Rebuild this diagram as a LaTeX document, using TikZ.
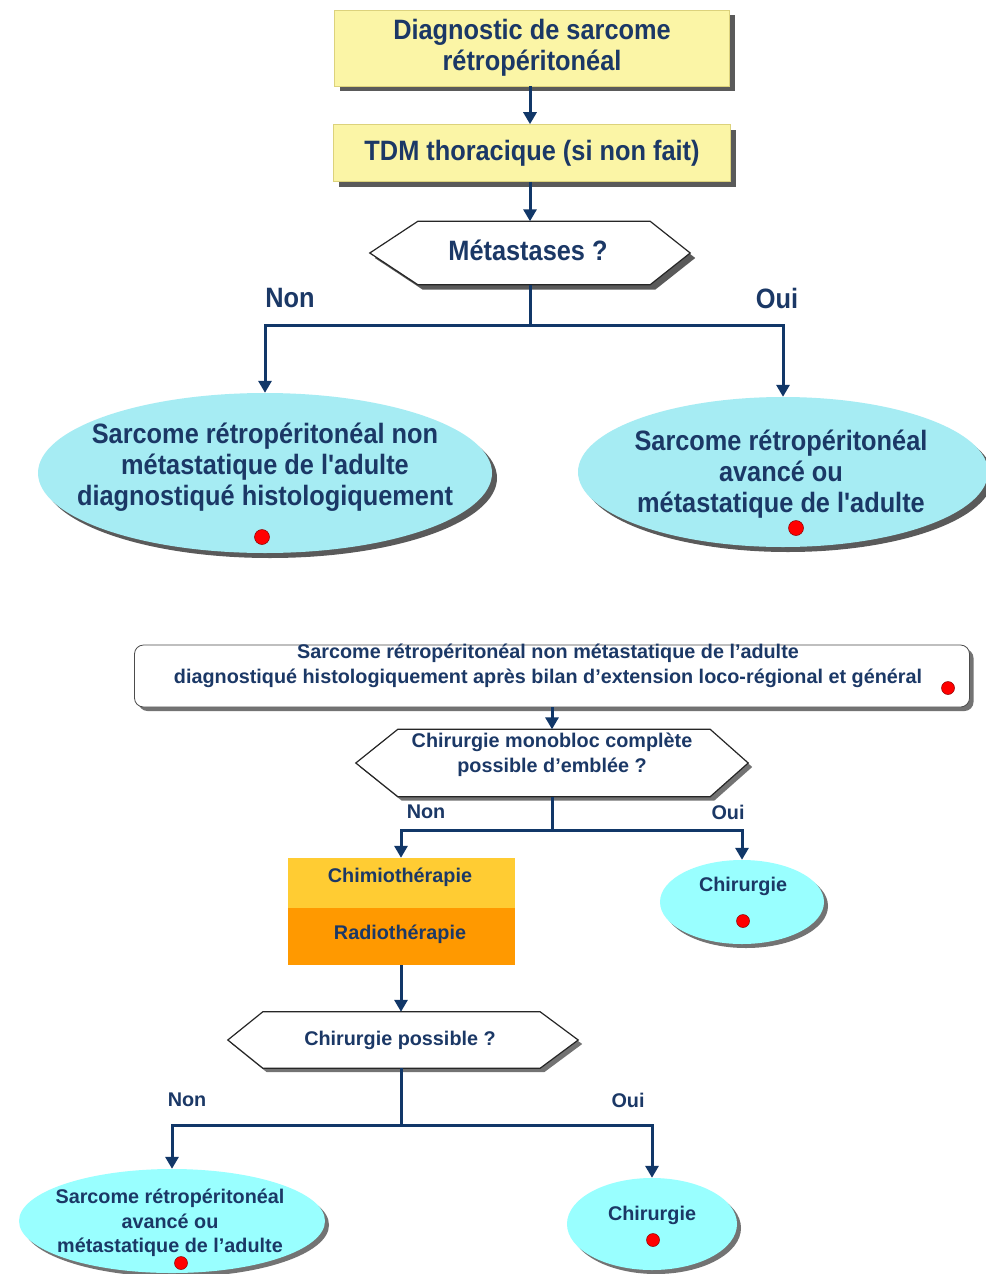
\documentclass[tikz,border=0pt]{standalone}
\usepackage{fontspec}
\setmainfont{Liberation Sans}
\newfontfamily\condensed{Liberation Sans}[FakeStretch=0.905]
\usetikzlibrary{arrows.meta,shadows,shapes.geometric,calc}

\definecolor{ink}{HTML}{1B3866}
\definecolor{linkc}{HTML}{113768}
\definecolor{paleyellow}{HTML}{FBF5A6}
\definecolor{yellowedge}{HTML}{DCD27C}
\definecolor{paleaqua}{HTML}{A6ECF3}
\definecolor{aqua}{HTML}{99FFFF}
\definecolor{chimioc}{HTML}{FFCC33}
\definecolor{radioc}{HTML}{FF9900}
\definecolor{shadowc}{HTML}{5A5A5A}
\definecolor{dotedge}{HTML}{8A0000}

\begin{document}
\begin{tikzpicture}[x=1pt,y=-1pt,
  every node/.style={inner sep=0pt, align=center, text=ink},
  castshadow/.style={drop shadow={shadow xshift=5pt, shadow yshift=-5pt, fill=shadowc, opacity=1}},
  lightshadow/.style={drop shadow={shadow xshift=4pt, shadow yshift=-4pt, fill=black!55, opacity=1}},
  topfont/.style={font=\condensed\bfseries\fontsize{28}{31}\selectfont},
  lowfont/.style={font=\bfseries\fontsize{19.8}{24.5}\selectfont},
  ybox/.style={rectangle, fill=paleyellow, draw=yellowedge, line width=0.6pt, castshadow},
  topoval/.style={ellipse, fill=paleaqua, castshadow},
  lowoval/.style={ellipse, fill=aqua, lightshadow},
  hexframe/.style={rectangle},
  hexline/.style={draw=black!85, fill=white, line width=1.2pt},
  dot/.style={circle, fill=red, draw=dotedge, line width=0.5pt, minimum size=13pt},
  link/.style={draw=linkc, line width=3pt, line join=miter,
               -{Triangle[width=13pt,length=12pt]}},
  plain/.style={draw=linkc, line width=3pt},
]
\useasboundingbox (0,0) rectangle (985,1274);
\fill[white] (0,0) rectangle (985,1274);

% ---------- first chart: initial work-up ----------
\node[ybox, minimum width=395, minimum height=76, topfont] (diag) at (532,48)
  {Diagnostic de sarcome\\rétropéritonéal};
\node[ybox, minimum width=397, minimum height=57, topfont] (tdm) at (532,153)
  {TDM thoracique (si non fait)};

\node[hexframe, minimum width=320, minimum height=63] (meta) at (530,253) {};
\draw[hexline, castshadow] (meta.west) -- ([xshift=48pt]meta.north west)
  -- ([xshift=-40pt]meta.north east) -- (meta.east)
  -- ([xshift=-40pt]meta.south east) -- ([xshift=48pt]meta.south west) -- cycle;
\node[topfont] (meta-t) at (528,250) {Métastases ?};

\draw[link] (diag.south -| meta.north) -- (tdm.north -| meta.north);
\draw[link] (tdm.south -| meta.north) -- (meta.north);

\coordinate (j1) at (530,325);
\draw[plain] (meta.south) -- (j1);

\node[topoval, minimum width=454, minimum height=160] (loc) at (265,473) {};
\node[topfont] (loc-t) at (265,467)
  {Sarcome rétropéritonéal non\\métastatique de l'adulte\\diagnostiqué histologiquement};
\node[dot, minimum size=15pt] (loc-d) at (262,537) {};

\node[topoval, minimum width=410, minimum height=150] (adv) at (783,472) {};
\node[topfont] (adv-t) at (781,474)
  {Sarcome rétropéritonéal\\avancé ou\\métastatique de l'adulte};
\node[dot, minimum size=15pt] (adv-d) at (796,528) {};

\draw[link] (j1) -| (loc.north);
\draw[link] (j1) -| (adv.north);

\node[topfont] (non1) at (290,298) {Non};
\node[topfont] (oui1) at (777,298) {Oui};

% ---------- second chart: localised disease ----------
\node[rectangle, rounded corners=9pt, fill=white, draw=black!70, line width=0.8pt,
      lightshadow, minimum width=835, minimum height=62] (bilan) at (552,676) {};
\node[lowfont] (bilan-t) at (548,666)
  {Sarcome rétropéritonéal non métastatique de l’adulte\\
   diagnostiqué histologiquement après bilan d’extension loco-régional et général};
\node[dot] (bilan-d) at (948,688) {};

\node[hexframe, minimum width=392, minimum height=67] (mono) at (552,763) {};
\draw[hexline, lightshadow] (mono.west) -- ([xshift=42pt]mono.north west)
  -- ([xshift=-38pt]mono.north east) -- (mono.east)
  -- ([xshift=-38pt]mono.south east) -- ([xshift=42pt]mono.south west) -- cycle;
\node[lowfont] (mono-t) at (552,755) {Chirurgie monobloc complète\\possible d’emblée ?};

\draw[link] (bilan.south) -- (mono.north);

\coordinate (j2) at (552,830);
\draw[plain] (mono.south) -- (j2);

\node[rectangle, fill=chimioc, minimum width=227, minimum height=50] (chimio) at (401,883) {};
\node[rectangle, fill=radioc, minimum width=227, minimum height=57] (radio) at (401,936.5) {};
\node[lowfont] (chimio-t) at (400,877) {Chimiothérapie};
\node[lowfont] (radio-t) at (400,934) {Radiothérapie};

\node[lowoval, minimum width=164, minimum height=84] (chir1) at (742,902) {};
\node[lowfont] (chir1-t) at (743,886) {Chirurgie};
\node[dot] (chir1-d) at (743,921) {};

\draw[link] (j2) -| (chimio.north);
\draw[link] (j2) -| (chir1.north);

\node[lowfont] (non2) at (426,812) {Non};
\node[lowfont] (oui2) at (728,812) {Oui};

\node[hexframe, minimum width=350, minimum height=56] (poss) at (403,1040) {};
\draw[hexline, lightshadow] (poss.west) -- ([xshift=35pt]poss.north west)
  -- ([xshift=-38pt]poss.north east) -- (poss.east)
  -- ([xshift=-38pt]poss.south east) -- ([xshift=35pt]poss.south west) -- cycle;
\node[lowfont] (poss-t) at (400,1040) {Chirurgie possible ?};

\draw[link] (radio.south) -- (radio.south |- poss.north);

\coordinate (j3) at (401,1125);
\draw[plain] (radio.south |- poss.south) -- (j3);

\node[lowoval, minimum width=306, minimum height=104] (adv2) at (172,1221) {};
\node[lowfont] (adv2-t) at (170,1223)
  {Sarcome rétropéritonéal\\avancé ou\\métastatique de l’adulte};
\node[dot] (adv2-d) at (181,1263) {};

\node[lowoval, minimum width=170, minimum height=92] (chir2) at (652,1224) {};
\node[lowfont] (chir2-t) at (652,1215) {Chirurgie};
\node[dot] (chir2-d) at (653,1240) {};

\draw[link] (j3) -| (adv2.north);
\draw[link] (j3) -| (chir2.north);

\node[lowfont] (non3) at (187,1100) {Non};
\node[lowfont] (oui3) at (628,1100) {Oui};
\end{tikzpicture}
\end{document}
